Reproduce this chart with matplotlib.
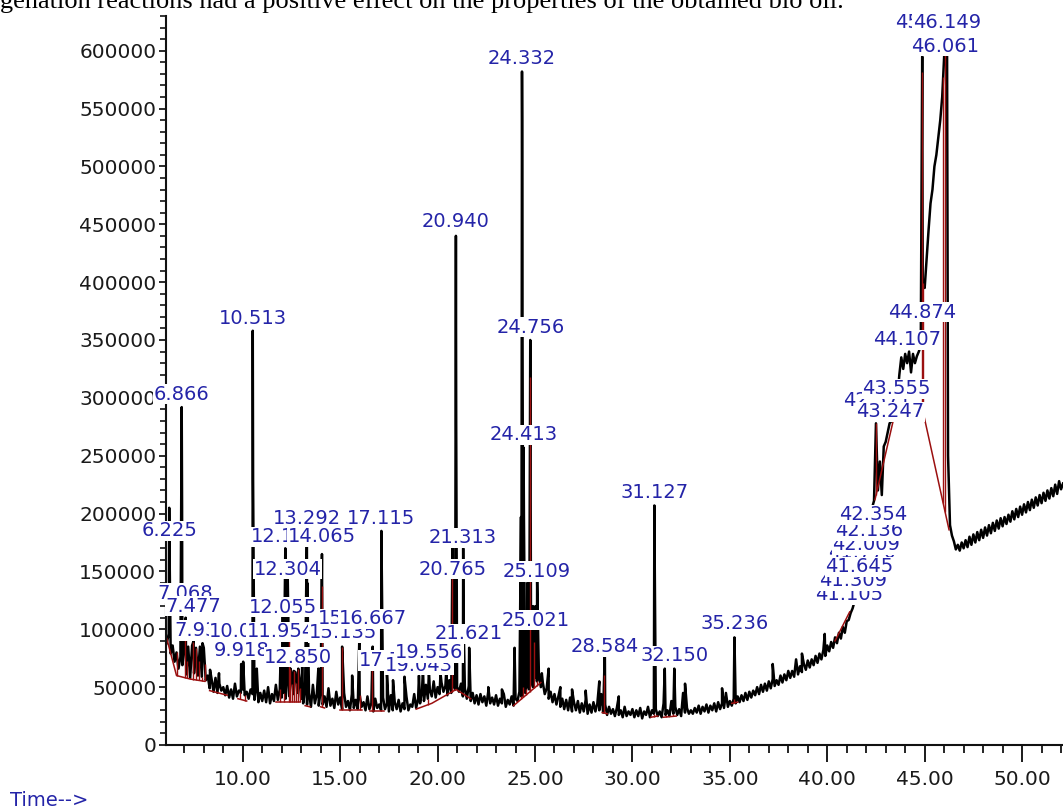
import numpy as np
import matplotlib.pyplot as plt
from matplotlib.ticker import MultipleLocator, FuncFormatter

# total ion current, abundance in thousands, one value every 0.1 min from 6.1 min
scan_start = 6.1
scan_step = 0.1
abund_k = [
    88, 96, 79, 86, 72, 80, 66, 76, 69, 84,             # 6.1-7.0
    61, 85, 58, 86, 62, 84, 60, 85, 59, 84,             # 7.1-8.0
    56, 60, 49, 57, 46, 58, 45, 53, 47, 50,             # 8.1-9.0
    43, 51, 41, 48, 40, 53, 42, 47, 45, 48,             # 9.1-10.0
    43, 46, 40, 48, 44, 39, 52, 37, 45, 38,             # 10.1-11.0
    47, 37, 50, 36, 44, 38, 52, 39, 48, 41,             # 11.1-12.0
    45, 40, 60, 42, 62, 44, 63, 45, 58, 40,             # 12.1-13.0
    36, 48, 35, 45, 33, 52, 36, 44, 34, 47,             # 13.1-14.0
    35, 42, 33, 49, 34, 40, 32, 46, 35, 41,             # 14.1-15.0
    31, 45, 33, 38, 30, 44, 32, 39, 31, 43,             # 15.1-16.0
    33, 37, 30, 42, 31, 36, 29, 40, 32, 35,             # 16.1-17.0
    30, 41, 31, 36, 29, 43, 30, 37, 31, 39,             # 17.1-18.0
    29, 36, 31, 42, 30, 35, 33, 44, 32, 40,             # 18.1-19.0
    36, 47, 38, 52, 40, 48, 42, 55, 41, 50,             # 19.1-20.0
    44, 54, 46, 51, 43, 56, 45, 52, 48, 50,             # 20.1-21.0
    46, 53, 42, 49, 40, 51, 38, 45, 36, 43,             # 21.1-22.0
    35, 44, 37, 42, 34, 46, 36, 41, 35, 43,             # 22.1-23.0
    34, 40, 36, 44, 33, 39, 35, 42, 34, 40,             # 23.1-24.0
    38, 46, 42, 50, 45, 52, 48, 56, 50, 58,             # 24.1-25.0
    55, 60, 50, 54, 44, 49, 40, 46, 37, 44,             # 25.1-26.0
    35, 42, 33, 40, 31, 39, 30, 41, 29, 37,             # 26.1-27.0
    30, 38, 28, 36, 29, 39, 27, 35, 28, 37,             # 27.1-28.0
    29, 36, 30, 44, 28, 35, 26, 33, 27, 31,             # 28.1-29.0
    25, 32, 26, 30, 24, 33, 25, 29, 26, 31,             # 29.1-30.0
    24, 30, 25, 32, 23, 29, 26, 33, 24, 30,             # 30.1-31.0
    27, 31, 25, 29, 24, 36, 26, 30, 25, 38,             # 31.1-32.0
    27, 33, 26, 31, 25, 45, 28, 32, 27, 30,             # 32.1-33.0
    27, 32, 28, 34, 27, 33, 29, 35, 28, 34,             # 33.1-34.0
    30, 36, 29, 37, 31, 36, 32, 45, 33, 38,             # 34.1-35.0
    34, 40, 36, 42, 37, 43, 38, 45, 39, 46,             # 35.1-36.0
    41, 47, 43, 50, 44, 52, 46, 53, 47, 55,             # 36.1-37.0
    49, 57, 51, 56, 52, 60, 54, 61, 56, 64,             # 37.1-38.0
    58, 64, 59, 74, 61, 68, 63, 70, 65, 73,             # 38.1-39.0
    67, 74, 69, 77, 71, 79, 74, 82, 77, 86,             # 39.1-40.0
    81, 89, 84, 93, 88, 97, 92, 102, 97, 107,           # 40.1-41.0
    108, 114, 118, 124, 130, 138, 146, 155, 165, 178,   # 41.1-42.0
    190, 198, 205, 211, 278, 220, 245, 216, 258, 262,   # 42.1-43.0
    270, 278, 280, 282, 286, 300, 320, 335, 325, 338,   # 43.1-44.0
    330, 340, 322, 338, 330, 336, 340, 345, 400, 395,   # 44.1-45.0
    420, 445, 468, 480, 500, 510, 525, 540, 560, 595,   # 45.1-46.0
    605, 250, 190, 181, 176, 169, 173, 168, 175, 170,   # 46.1-47.0
    177, 171, 180, 173, 182, 175, 184, 177, 186, 179,   # 47.1-48.0
    188, 181, 190, 183, 192, 185, 194, 187, 196, 189,   # 48.1-49.0
    197, 191, 199, 193, 202, 195, 204, 197, 206, 199,   # 49.1-50.0
    208, 201, 210, 203, 212, 205, 214, 207, 216, 209,   # 50.1-51.0
    218, 211, 220, 213, 222, 215, 225, 217, 228, 221,   # 51.1-52.0
    226,                                                # 52.1
]

# apex scans of the sharp peaks (min, abundance x1000)
peak_rt = [6.225, 6.24, 6.866, 6.885, 7.068, 7.477, 7.934, 8.32, 8.78,
           9.918, 10.021, 10.513, 10.53, 10.72, 11.954, 12.055, 12.184,
           12.304, 12.45, 12.62, 12.850, 13.05, 13.292, 13.31, 13.88,
           14.065, 14.08, 15.10, 15.614, 15.98, 16.667, 17.115, 17.40,
           17.712, 18.30, 19.043, 19.25, 19.556, 20.15, 20.45, 20.765,
           20.785, 20.940, 20.955, 21.313, 21.33, 21.621, 22.6, 23.3,
           23.95, 24.28, 24.332, 24.342, 24.36, 24.413, 24.43, 24.6,
           24.756, 24.77, 24.9, 25.021, 25.109, 25.35, 25.70, 26.3, 26.9,
           27.6, 28.3, 28.584, 29.3, 31.127, 31.14, 31.66, 32.150, 32.7,
           34.6, 35.236, 37.2, 38.7, 39.87, 44.874, 46.061, 46.149]
peak_k = [205, 172, 292, 205, 110, 90, 88, 65, 62,
          70, 72, 358, 229, 66, 82, 118, 170,
          148, 66, 64, 66, 70, 190, 140, 66,
          165, 115, 85, 60, 90, 85, 185, 62,
          56, 59, 60, 66, 64, 62, 66, 175,
          142, 440, 277, 170, 110, 84, 50, 48,
          84, 197, 582, 540, 350, 257, 200, 140,
          350, 250, 120, 120, 142, 62, 66, 50, 48,
          47, 55, 82, 42, 207, 168, 66, 66, 53,
          49, 93, 70, 79, 96, 595, 605, 605]

# integration baselines (min, abundance x1000)
base_segs = [
    [(6.1, 92), (6.6, 60), (7.3, 57), (8.05, 55)],
    [(8.3, 47), (9.2, 43)],
    [(9.75, 40), (10.2, 38)],
    [(11.7, 37), (12.3, 37), (12.95, 37)],
    [(13.2, 34), (13.45, 33)],
    [(14.0, 33), (14.2, 32)],
    [(15.0, 30), (16.1, 30)],
    [(16.55, 29), (17.25, 29)],
    [(18.9, 31), (19.7, 36), (20.95, 48), (21.7, 40)],
    [(23.9, 34), (25.3, 54)],
    [(28.45, 28), (28.7, 27)],
    [(30.95, 24), (31.3, 25)],
    [(31.6, 24), (32.25, 25)],
    [(35.1, 36), (35.4, 37)],
    [(40.4, 90), (41.15, 115)],
    [(42.45, 212), (43.45, 285)],
    [(44.85, 293), (46.25, 186)],
]
# peak start/stop markers
drop_t = [6.1, 6.6, 7.05, 7.15, 7.3, 7.45, 7.6, 7.75, 7.9, 8.05, 9.85, 10.1,
          11.9, 12.1, 12.35, 12.45, 12.55, 12.65, 12.75, 12.85, 12.95, 13.3,
          14.05, 15.1, 16.0, 16.65, 17.1, 19.5, 20.75, 20.9, 21.3, 24.3, 24.4,
          24.55, 24.75, 24.95, 25.1, 28.55, 31.1, 31.7, 32.1, 35.2, 42.5,
          43.45, 44.87, 44.92, 45.95, 46.05]

# retention time labels
label_txt = ["6.866", "6.225", "7.068", "7.477", "7.934", "9.918", "10.021",
             "11.954", "12.850", "12.055", "12.304", "13.292", "12.184",
             "14.065", "15.135", "15.614", "16.667", "17.115", "17.712",
             "19.043", "19.556", "10.513", "20.765", "20.940", "21.313",
             "21.621", "24.332", "24.413", "24.756", "25.021", "25.109",
             "28.584", "32.150", "31.127", "35.236", "41.105", "41.309",
             "41.770", "41.645", "42.009", "42.136", "42.354", "42.571",
             "43.247", "43.555", "44.107", "44.874", "45.203", "46.149",
             "46.061"]
label_rt = [6.866, 6.225, 7.068, 7.477, 7.934, 9.918, 10.021,
            11.954, 12.850, 12.055, 12.304, 13.292, 12.184,
            14.065, 15.135, 15.614, 16.667, 17.115, 17.712,
            19.043, 19.556, 10.513, 20.765, 20.940, 21.313,
            21.621, 24.332, 24.413, 24.756, 25.021, 25.109,
            28.584, 32.150, 31.127, 35.236, 41.105, 41.309,
            41.770, 41.645, 42.009, 42.136, 42.354, 42.571,
            43.247, 43.555, 44.107, 44.874, 45.203, 46.149,
            46.061]
label_y = [303, 185, 131, 120, 99, 82, 98,
           98, 76, 119, 152, 196, 180,
           180, 97, 109, 109, 196, 73,
           69, 80, 369, 152, 452, 179,
           96, 593, 268, 361, 108, 150,
           85, 77, 218, 105, 130, 142,
           166, 154, 173, 185, 199, 298,
           288, 308, 350, 374, 624, 624,
           604]

t_scan = scan_start + scan_step * np.arange(len(abund_k))
t_all = np.concatenate([t_scan, peak_rt])
v_all = np.concatenate([abund_k, peak_k]) * 1000.0
order = np.argsort(t_all, kind="stable")
t_all, v_all = t_all[order], v_all[order]

fig = plt.figure(figsize=(10.63, 8.08), dpi=100)
ax = fig.add_axes([166 / 1063, 63 / 808, 1 - 166 / 1063, (745 - 16) / 808])

ax.plot(t_all, v_all, color="black", lw=1.8, zorder=2)

red = "#9b1010"
for seg in base_segs:
    st = [p[0] for p in seg]
    sv = [p[1] * 1000 for p in seg]
    ax.plot(st, sv, color=red, lw=1.1, zorder=2.2)
for t in drop_t:
    for seg in base_segs:
        st = [p[0] for p in seg]
        if st[0] <= t <= st[-1]:
            b = np.interp(t, st, [p[1] * 1000 for p in seg])
            top = np.interp(t, t_all, v_all)
            ax.vlines(t, b, max(top, b), color=red, lw=1.0, zorder=2.2)
            break

for txt, rt, yk in zip(label_txt, label_rt, label_y):
    ax.text(rt, yk * 1000, txt, ha="center", va="center", fontsize=14,
            color="#2424a8", zorder=4,
            bbox=dict(boxstyle="square,pad=0.03", fc="white", ec="none"))

ax.set_xlim(6.06, 52.1)
ax.set_ylim(0, 630000)
ax.spines["top"].set_visible(False)
ax.spines["right"].set_visible(False)
for s in ("left", "bottom"):
    ax.spines[s].set_linewidth(1.5)
    ax.spines[s].set_color("#111111")

ax.xaxis.set_major_locator(MultipleLocator(5))
ax.xaxis.set_minor_locator(MultipleLocator(1))
ax.yaxis.set_major_locator(MultipleLocator(50000))
ax.yaxis.set_minor_locator(MultipleLocator(10000))
ax.xaxis.set_major_formatter(FuncFormatter(lambda v, p: "%.2f" % v))
ax.yaxis.set_major_formatter(FuncFormatter(lambda v, p: "%d" % v))
ax.tick_params(axis="x", which="major", length=12, width=1.4, labelsize=14.5,
               colors="#1a1a1a", pad=6)
ax.tick_params(axis="x", which="minor", length=6, width=1.2)
ax.tick_params(axis="y", which="major", length=5, width=1.3, labelsize=14.5,
               colors="#1a1a1a", pad=2)
ax.tick_params(axis="y", which="minor", length=4, width=1.1)

fig.text(10 / 1063, 1 - 800 / 808, "Time-->", color="#2424a8", fontsize=14,
         ha="left", va="center")
fig.text(0.0, 1 - 8 / 808,
         "genation reactions had a positive effect on the properties of the obtained bio oil.",
         family="Liberation Serif", fontsize=19, ha="left", va="baseline")

fig.savefig("out.png", dpi=100)
